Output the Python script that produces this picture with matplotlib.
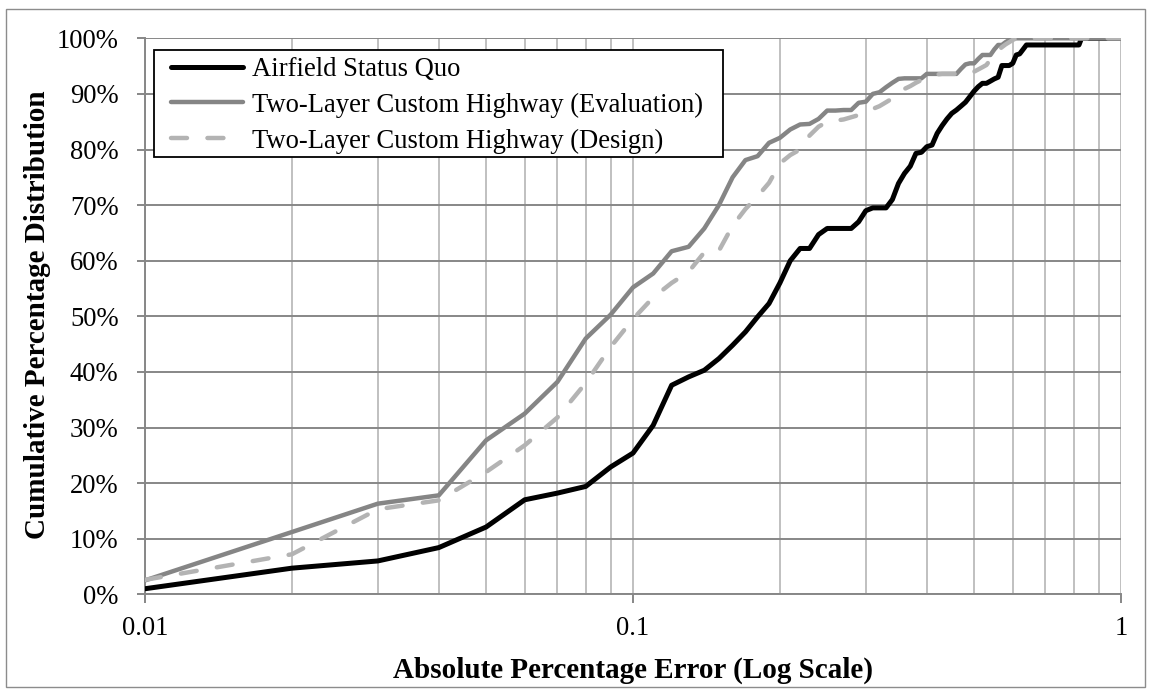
import matplotlib
matplotlib.use("Agg")
import matplotlib.pyplot as plt
from matplotlib.patches import Rectangle
from matplotlib.ticker import FixedLocator, FixedFormatter, LogLocator, NullFormatter, NullLocator

plt.rcParams['font.family'] = ['Liberation Serif', 'DejaVu Serif']

# ---------------- data ----------------
x_status_quo = [0.01, 0.02, 0.03, 0.04, 0.05, 0.06, 0.07, 0.08, 0.09, 0.10,
                0.11, 0.12, 0.13, 0.14, 0.15, 0.16, 0.17, 0.18, 0.19, 0.20,
                0.21, 0.22, 0.23, 0.24, 0.25, 0.26, 0.27, 0.28, 0.29, 0.30,
                0.31, 0.32, 0.33, 0.34, 0.35, 0.36, 0.37, 0.38, 0.39, 0.40,
                0.41, 0.42, 0.43, 0.44, 0.45, 0.46, 0.47, 0.48, 0.49, 0.50,
                0.51, 0.52, 0.53, 0.54, 0.55, 0.56, 0.57, 0.58, 0.59, 0.60,
                0.61, 0.62, 0.63, 0.64, 0.70, 0.82, 0.83, 1.00]
y_status_quo = [1.0, 4.7, 6.0, 8.4, 12.1, 17.0, 18.2, 19.4, 22.9, 25.4,
                30.4, 37.6, 39.1, 40.3, 42.4, 44.8, 47.2, 49.9, 52.3, 56.0,
                60.0, 62.2, 62.2, 64.7, 65.8, 65.8, 65.8, 65.8, 67.0, 69.0,
                69.5, 69.5, 69.5, 71.0, 73.9, 75.7, 77.0, 79.3, 79.5, 80.5,
                80.8, 82.9, 84.3, 85.5, 86.5, 87.1, 87.8, 88.5, 89.5, 90.5,
                91.3, 91.9, 91.9, 92.3, 92.7, 93.0, 95.1, 95.1, 95.1, 95.5,
                97.0, 97.2, 98.0, 98.8, 98.8, 98.8, 100.0, 100.0]

x_evaluation = [0.01, 0.02, 0.03, 0.04, 0.05, 0.06, 0.07, 0.08, 0.09, 0.10,
                0.11, 0.12, 0.13, 0.14, 0.15, 0.16, 0.17, 0.18, 0.19, 0.20,
                0.21, 0.22, 0.23, 0.24, 0.25, 0.26, 0.27, 0.28, 0.29, 0.30,
                0.31, 0.32, 0.33, 0.34, 0.35, 0.36, 0.39, 0.40, 0.46, 0.47,
                0.48, 0.49, 0.50, 0.51, 0.52, 0.53, 0.54, 0.55, 0.56, 0.57,
                0.58, 0.59, 0.60, 1.00]
y_evaluation = [2.5, 11.2, 16.3, 17.8, 27.7, 32.5, 38.2, 46.0, 50.3, 55.2,
                57.7, 61.7, 62.5, 65.8, 70.0, 75.0, 78.1, 78.8, 81.2, 82.1,
                83.6, 84.5, 84.6, 85.5, 87.0, 87.0, 87.1, 87.1, 88.4, 88.6,
                90.0, 90.3, 91.2, 92.0, 92.7, 92.8, 92.8, 93.6, 93.6, 94.5,
                95.3, 95.5, 95.5, 96.3, 97.0, 97.0, 97.0, 98.0, 98.8, 98.8,
                99.3, 99.7, 100.0, 100.0]

x_design = [0.01, 0.02, 0.03, 0.04, 0.05, 0.06, 0.07, 0.08, 0.09, 0.10,
            0.11, 0.12, 0.13, 0.14, 0.15, 0.16, 0.17, 0.18, 0.19, 0.20,
            0.21, 0.22, 0.23, 0.24, 0.25, 0.26, 0.27, 0.28, 0.29, 0.30,
            0.31, 0.32, 0.33, 0.34, 0.35, 0.36, 0.37, 0.38, 0.39, 0.40,
            0.41, 0.42, 0.43, 0.49, 0.50, 0.51, 0.52, 0.53, 0.54, 0.55,
            0.56, 0.57, 0.58, 0.59, 0.60, 0.61, 1.00]
y_design = [2.6, 7.2, 15.3, 16.9, 22.0, 26.8, 31.8, 38.0, 44.5, 49.5,
            53.4, 56.0, 58.0, 61.5, 61.8, 66.3, 69.3, 71.6, 74.0, 77.5,
            79.0, 80.0, 82.5, 84.1, 85.0, 85.2, 85.4, 85.8, 86.2, 86.7,
            87.3, 87.8, 88.5, 89.2, 90.3, 90.9, 91.4, 92.0, 92.5, 93.0,
            93.3, 93.5, 93.6, 93.6, 94.0, 94.4, 94.8, 95.2, 96.2, 97.2,
            97.8, 98.4, 98.9, 99.3, 99.7, 100.0, 100.0]

series_labels = ["Airfield Status Quo",
                 "Two-Layer Custom Highway (Evaluation)",
                 "Two-Layer Custom Highway (Design)"]
x_ticks = [0.01, 0.1, 1]
x_tick_labels = ["0.01", "0.1", "1"]
y_ticks = [0, 10, 20, 30, 40, 50, 60, 70, 80, 90, 100]
y_tick_labels = [f"{v}%" for v in y_ticks]
x_title = "Absolute Percentage Error (Log Scale)"
y_title = "Cumulative Percentage Distribution"

# ---------------- figure ----------------
W, H = 1151, 694
fig = plt.figure(figsize=(W / 100, H / 100), dpi=100)

L, R, T, B = 145, 1121, 38.3, 594.3
ax = fig.add_axes([L / W, 1 - B / H, (R - L) / W, (B - T) / H])

FS = 19.2
FS_TITLE = 21
grid_dark = '#878787'
grid_light = '#c0c0c0'

ax.set_xscale('log')
ax.set_xlim(0.01, 1)
ax.set_ylim(0, 100)

ax.plot(x_status_quo, y_status_quo, color='black', lw=3.6,
        solid_joinstyle='round', solid_capstyle='round', label=series_labels[0], zorder=3)
ax.plot(x_evaluation, y_evaluation, color='#858585', lw=3.2,
        solid_joinstyle='round', solid_capstyle='round', label=series_labels[1], zorder=4)
ax.plot(x_design, y_design, color='#b3b3b3', lw=3.2, dashes=(3.6, 4.6),
        dash_capstyle='round', dash_joinstyle='round', label=series_labels[2], zorder=5)

# ticks
ax.xaxis.set_major_locator(FixedLocator(x_ticks))
ax.xaxis.set_major_formatter(FixedFormatter(x_tick_labels))
ax.xaxis.set_minor_locator(LogLocator(base=10, subs=[2, 3, 4, 5, 6, 7, 8, 9]))
ax.xaxis.set_minor_formatter(NullFormatter())
ax.yaxis.set_major_locator(FixedLocator(y_ticks))
ax.yaxis.set_major_formatter(FixedFormatter(y_tick_labels))
ax.yaxis.set_minor_locator(NullLocator())

ax.tick_params(axis='both', which='major', labelsize=FS, colors=grid_dark,
               labelcolor='black', direction='out', width=1.4)
ax.tick_params(axis='x', which='major', length=6.5, pad=9)
ax.tick_params(axis='y', which='major', length=6, pad=13)
ax.tick_params(axis='x', which='minor', length=0)

# grid
ax.grid(True, axis='y', which='major', color=grid_dark, lw=1.4, zorder=1)
ax.grid(True, axis='x', which='both', color=grid_light, lw=1.4, zorder=1)
ax.set_axisbelow(True)

for s in ['top', 'right']:
    ax.spines[s].set_visible(False)
for s in ['left', 'bottom']:
    ax.spines[s].set_color(grid_dark)
    ax.spines[s].set_linewidth(1.4)

# axis titles
fig.text(633 / W, 1 - 670 / H, x_title, ha='center', va='center',
         fontsize=FS_TITLE, fontweight='bold')
fig.text(38 / W, 1 - 315 / H, y_title, ha='center', va='center',
         rotation=90, fontsize=FS_TITLE, fontweight='bold')

# legend (entries without frame; frame drawn as separate box)
leg = ax.legend(loc='upper left', bbox_to_anchor=(171 / W, 1 - 57 / H),
                bbox_transform=fig.transFigure, fontsize=FS, frameon=False,
                borderaxespad=0, borderpad=0,
                labelspacing=0.40, handlelength=2.7, handletextpad=0.33)
leg.set_zorder(11)
ax.add_patch(Rectangle((154 / W, 1 - 157 / H), (723 - 154) / W, (157 - 50) / H,
                       transform=fig.transFigure, facecolor='white',
                       edgecolor='black', lw=1.3, zorder=10, clip_on=False))

# chart-area border
fig.patches.append(Rectangle((6 / W, 1 - 687 / H), (1145 - 6) / W, (687 - 9) / H,
                             transform=fig.transFigure, fill=False,
                             edgecolor='#8c8c8c', lw=1.0))

fig.savefig('out.png', dpi=100)
